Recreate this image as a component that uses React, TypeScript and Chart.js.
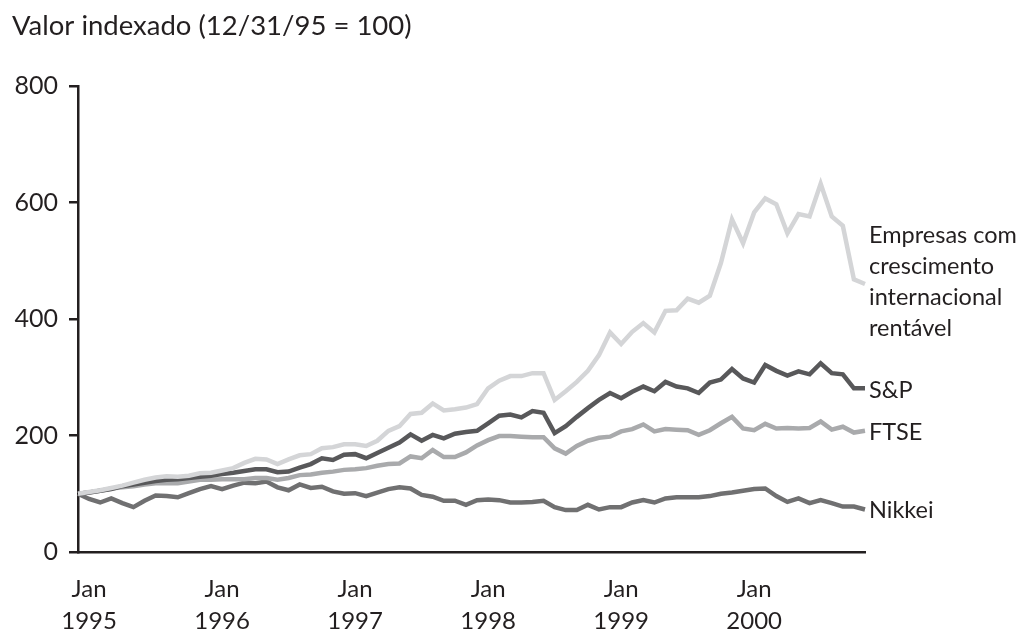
import React, { useEffect, useRef } from "react";
import { Chart, registerables } from "chart.js";

Chart.register(...registerables);

const years = ["1995", "1996", "1997", "1998", "1999", "2000"];
const monthNames = ["Jan", "Fev", "Mar", "Abr", "Mai", "Jun", "Jul", "Ago", "Set", "Out", "Nov", "Dez"];

const empresas = [
  100, 103, 106, 110, 114, 119, 124, 128, 130, 129, 131, 135,
  136, 140, 144, 153, 160, 159, 151, 159, 166, 168, 178, 180,
  185, 185, 182, 191, 208, 216, 237, 239, 255, 243, 245, 248,
  254, 281, 294, 302, 302, 307, 307, 261, 276, 292, 311, 338,
  377, 357, 378, 393, 377, 414, 415, 435, 428, 440, 496, 571,
  530, 583, 607, 597, 547, 580, 576, 632, 576, 560, 468, 460,
];
const sp = [
  100, 102, 105, 108, 113, 116, 119, 122, 124, 125, 127, 129,
  131, 134, 136, 139, 142, 142, 137, 138, 145, 151, 161, 158,
  167, 168, 161, 170, 179, 188, 202, 191, 201, 195, 203, 206,
  208, 221, 234, 236, 231, 242, 239, 204, 216, 232, 247, 261,
  273, 264, 275, 284, 276, 292, 284, 281, 273, 291, 296, 314,
  298, 291, 321, 311, 303, 310, 305, 324, 307, 305, 281, 281,
];
const ftse = [
  100, 102, 105, 109, 111, 113, 116, 118, 118, 118, 121, 124,
  124, 125, 125, 125, 127, 127, 124, 127, 132, 133, 136, 138,
  141, 142, 144, 148, 151, 152, 164, 161, 175, 163, 163, 171,
  183, 192, 199, 199, 198, 197, 197, 178, 169, 182, 191, 196,
  198, 207, 211, 219, 207, 211, 210, 209, 201, 209, 221, 232,
  212, 209, 220, 212, 213, 212, 213, 224, 210, 215, 205, 208,
];
const nikkei = [
  100, 91, 85, 92, 84, 77, 88, 97, 96, 94, 101, 108,
  113, 108, 114, 119, 118, 121, 111, 106, 116, 110, 112, 104,
  100, 101, 96, 102, 108, 111, 109, 98, 95, 88, 88, 81,
  89, 90, 89, 85, 85, 86, 88, 77, 72, 72, 81, 73,
  77, 77, 85, 89, 85, 92, 94, 94, 94, 96, 100, 102,
  105, 108, 109, 96, 86, 92, 84, 89, 84, 78, 78, 73,
];

const yMin = 0;
const yMax = 800;
const yStep = 200;

const title = "Valor indexado (12/31/95 = 100)";
const empresasLabel = ["Empresas com", "crescimento", "internacional", "rentável"];
const spLabel = "S&P";
const ftseLabel = "FTSE";
const nikkeiLabel = "Nikkei";

// Month categories: first point is Dec 1994, then Jan 1995 ... Nov 2000
const categories: string[] = empresas.map((_, i) => {
  const m = (i + 11) % 12;
  const y = 1994 + Math.floor((i + 11) / 12);
  return `${monthNames[m]} ${y}`;
});

const FONT = "Lato, 'Open Sans', sans-serif";
const TEXT = "#231f20";

const labelPlugin = {
  id: "sideLabels",
  afterDraw(chart: any) {
    const ctx = chart.ctx;
    const ys = chart.scales.y;
    const xr = chart.chartArea.right + 4;
    const last = (arr: number[]) => ys.getPixelForValue(arr[arr.length - 1]);
    ctx.save();
    ctx.fillStyle = TEXT;
    ctx.textAlign = "left";
    ctx.textBaseline = "alphabetic";
    ctx.font = `27.5px ${FONT}`;
    ctx.fillText(title, 12, 35);
    ctx.font = `23.5px ${FONT}`;
    const e0 = last(empresas) - 41;
    empresasLabel.forEach((t, k) => ctx.fillText(t, xr, e0 + k * 31));
    ctx.fillText(spLabel, xr, last(sp) + 10);
    ctx.fillText(ftseLabel, xr, last(ftse) + 9);
    ctx.fillText(nikkeiLabel, xr, last(nikkei) + 8.5);
    ctx.restore();
  },
};

export default function App() {
  const ref = useRef<HTMLCanvasElement | null>(null);
  useEffect(() => {
    if (!ref.current) return;
    const mk = (label: string, data: number[], color: string) => ({
      label,
      data,
      borderColor: color,
      backgroundColor: color,
      borderWidth: 4.5,
      pointRadius: 0,
      tension: 0,
      fill: false,
      borderJoinStyle: "miter" as const,
    });
    const chart = new Chart(ref.current, {
      type: "line",
      data: {
        labels: categories,
        datasets: [
          mk(empresasLabel.join(" "), empresas, "#d4d5d7"),
          mk(spLabel, sp, "#58585a"),
          mk(ftseLabel, ftse, "#a9aaac"),
          mk(nikkeiLabel, nikkei, "#707071"),
        ],
      },
      options: {
        animation: false,
        responsive: false,
        maintainAspectRatio: false,
        layout: { padding: { top: 86, left: 0, right: 166, bottom: 0 } },
        plugins: {
          legend: { display: false },
          tooltip: { enabled: false },
          title: { display: false },
        },
        scales: {
          x: {
            type: "category",
            offset: false,
            grid: { display: false },
            border: { display: true, color: "#231f20", width: 2.5 },
            ticks: {
              autoSkip: false,
              maxRotation: 0,
              minRotation: 0,
              padding: 14,
              color: TEXT,
              font: { family: FONT, size: 24, lineHeight: 1.3 },
              callback: (_v: any, i: number) => {
                const m = (i + 11) % 12;
                if (m !== 0) return "";
                const y = Math.floor((i + 11) / 12) - 1;
                return ["Jan", years[y]];
              },
            },
            afterFit: (s: any) => {
              s.height = 81;
            },
          },
          y: {
            min: yMin,
            max: yMax,
            ticks: {
              stepSize: yStep,
              padding: 11,
              color: TEXT,
              font: { family: FONT, size: 25 },
            },
            grid: {
              display: true,
              drawOnChartArea: false,
              drawTicks: true,
              tickLength: 9,
              color: "#231f20",
              lineWidth: 2.5,
            },
            border: { display: true, color: "#231f20", width: 2.5 },
            afterFit: (s: any) => {
              s.width = 78;
            },
          },
        },
      },
      plugins: [labelPlugin],
    });
    return () => chart.destroy();
  }, []);
  return (
    <div style={{ position: "fixed", left: 0, top: 0, width: 1031, height: 633, background: "#fff" }}>
      <canvas ref={ref} width={1031} height={633} />
    </div>
  );
}
